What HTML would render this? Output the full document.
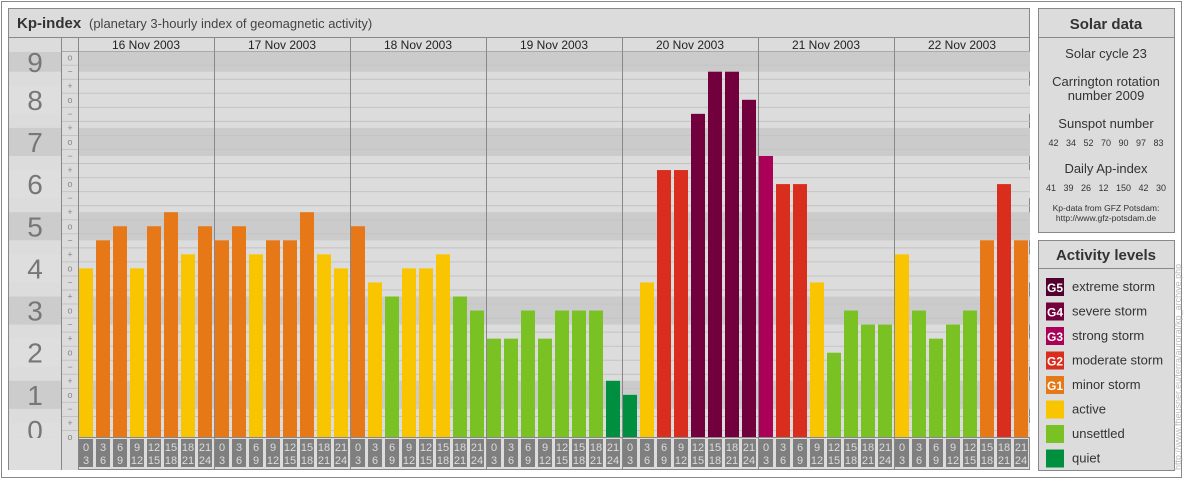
<!DOCTYPE html>
<html><head><meta charset="utf-8"><style>
body{margin:0;background:#fff;font-family:"Liberation Sans",sans-serif;}
svg text{font-family:"Liberation Sans",sans-serif;}
</style></head><body>
<svg id="svg" width="1184" height="480" xmlns="http://www.w3.org/2000/svg">
<rect x="1.5" y="1.5" width="1180" height="476" fill="#fff" stroke="#888"/>
<rect x="8.5" y="8.5" width="1021" height="461" fill="#dcdcdc" stroke="#888"/>
<line x1="9" y1="37.5" x2="1030" y2="37.5" stroke="#888"/>
<text x="17" y="28" font-size="15" font-weight="bold" fill="#333">Kp-index</text>
<text x="89" y="28" font-size="13" fill="#444">(planetary 3-hourly index of geomagnetic activity)</text>
<g id="bands"></g>
<g id="grid"></g>
<g id="days"></g>
<g id="bars"></g>
<g id="hours"></g>
<line x1="61.5" y1="38" x2="61.5" y2="470" stroke="#888"/>
<line x1="78.5" y1="38" x2="78.5" y2="470" stroke="#888"/>
<!-- Solar data -->
<g>
<rect x="1038.5" y="8.5" width="136" height="224" fill="#dcdcdc" stroke="#888"/>
<line x1="1039" y1="37.5" x2="1174" y2="37.5" stroke="#888"/>
<text x="1106" y="29" font-size="15" font-weight="bold" fill="#333" text-anchor="middle">Solar data</text>
<text x="1106" y="58" font-size="13" fill="#333" text-anchor="middle">Solar cycle 23</text>
<text x="1106" y="86" font-size="13" fill="#333" text-anchor="middle">Carrington rotation</text>
<text x="1106" y="100" font-size="13" fill="#333" text-anchor="middle">number 2009</text>
<text x="1106" y="128" font-size="13" fill="#333" text-anchor="middle">Sunspot number</text>
<text x="1106" y="146" font-size="9" fill="#333" text-anchor="middle" word-spacing="5">42 34 52 70 90 97 83</text>
<text x="1106" y="173" font-size="13" fill="#333" text-anchor="middle">Daily Ap-index</text>
<text x="1106" y="191" font-size="9" fill="#333" text-anchor="middle" word-spacing="5">41 39 26 12 150 42 30</text>
<text x="1106" y="211" font-size="8.5" fill="#333" text-anchor="middle">Kp-data from GFZ Potsdam:</text>
<text x="1106" y="221" font-size="8.5" fill="#333" text-anchor="middle">http://www.gfz-potsdam.de</text>
</g>
<g id="legend">
<rect x="1038.5" y="240.5" width="136" height="230" fill="#dcdcdc" stroke="#888"/>
<line x1="1039" y1="268.5" x2="1174" y2="268.5" stroke="#888"/>
<text x="1106" y="260" font-size="15" font-weight="bold" fill="#333" text-anchor="middle">Activity levels</text>
</g>
<text transform="translate(1181,470) rotate(-90)" font-size="9" fill="#bbb">http://www.fheusner.eu/terra/auroral/kp_archive.php</text>
</svg>
<script>
const days=["16 Nov 2003","17 Nov 2003","18 Nov 2003","19 Nov 2003","20 Nov 2003","21 Nov 2003","22 Nov 2003"];
const hourStarts=["0","3","6","9","12","15","18","21"];
const hourEnds=["3","6","9","12","15","18","21","24"];
const kpThirds=[12,14,15,12,15,16,13,15, 14,15,13,14,14,16,13,12, 15,11,10,12,12,13,10,9, 7,7,9,7,9,9,9,4, 3,11,19,19,23,26,26,24, 20,18,18,11,6,9,8,8, 13,9,7,8,9,14,18,14];
const levelNames=["G5","G4","G3","G2","G1","","",""];
const levelLabels=["extreme storm","severe storm","strong storm","moderate storm","minor storm","active","unsettled","quiet"];
const levelColors=["#52002e","#72003d","#aa0058","#d92d1e","#e67817","#f9c500","#7ac124","#008f3f"];
const NS="http://www.w3.org/2000/svg";
function mk(t,a,p){const e=document.createElementNS(NS,t);for(const k in a)e.setAttribute(k,a[k]);p.appendChild(e);return e;}
const X0=78,SLOT=17,BASE=437,K=14.05;
function yOf(n){return BASE-n*K;}
function colorOf(n){if(n>=27)return levelColors[0];if(n>=23)return levelColors[1];if(n>=20)return levelColors[2];if(n>=17)return levelColors[3];if(n>=14)return levelColors[4];if(n>=11)return levelColors[5];if(n>=5)return levelColors[6];return levelColors[7];}
const bands=document.getElementById('bands'),grid=document.getElementById('grid');
for(let L=0;L<=9;L++){
  const top=Math.max(52,yOf(3*L+1)),bot=Math.min(BASE,yOf(3*L-1));
  const dark=L%2==1;
  const r=mk('rect',{x:9,y:top,width:52,height:bot-top,fill:dark?'#cccccc':'#dedede'},bands);
  
  
  mk('rect',{x:79,y:top,width:951,height:bot-top,fill:dark?'#cbcbcb':'#dcdcdc'},bands);
  const t=mk('text',{x:35,y:(top+bot)/2+10,'font-size':28,fill:'#777','text-anchor':'middle'},bands);
  t.textContent=L;
  
  
}
mk('rect',{x:9,y:438,width:52,height:32,fill:'#dedede'},bands);
mk('rect',{x:62,y:38,width:16,height:432,fill:'#dcdcdc'},bands);
const syms=["o","+","−"];
for(let n=0;n<=27;n++){
  const y=yOf(n);
  const s=mk('text',{x:70,y:y+3,'font-size':9,fill:'#888','text-anchor':'middle'},grid);
  s.textContent=syms[((n%3)+3)%3===0?0:(n%3===1?1:2)];
  
  
  if(n<27) mk('line',{x1:62,y1:y-7+0.5,x2:1030,y2:y-7+0.5,stroke:(n%3===1)?'#c2c2c2':'#c4c4c4'},grid);
}
mk('line',{x1:62,y1:51.5,x2:1030,y2:51.5,stroke:'#aaa'},grid);
const dg=document.getElementById('days');
days.forEach((d,i)=>{
  const x=X0+i*136;
  if(i>0){const l=mk('line',{x1:x+0.5,y1:38,x2:x+0.5,y2:470,stroke:'#888'},dg);}
  const t=mk('text',{x:x+68,y:49,'font-size':12,fill:'#222','text-anchor':'middle'},dg);
  t.textContent=d;
  
  
});
const bg=document.getElementById('bars'),hg=document.getElementById('hours');
kpThirds.forEach((n,i)=>{
  const x=X0+1+i*SLOT,y=yOf(n);
  const b=mk('rect',{x:x,y:y,width:14,height:BASE-y,fill:colorOf(n)},bg);
  
  
  const h=mk('rect',{x:x,y:439,width:14,height:28,fill:'#7f7f7f'},hg);
  
  
  const t1=mk('text',{x:x+7,y:451,'font-size':11,fill:'#ddd','text-anchor':'middle'},hg);
  t1.textContent=hourStarts[i%8];
  const t2=mk('text',{x:x+7,y:464,'font-size':11,fill:'#ddd','text-anchor':'middle'},hg);
  t2.textContent=hourEnds[i%8];
});
mk('line',{x1:79,y1:437.5,x2:1030,y2:437.5,stroke:'#888'},hg);
const lg=document.getElementById('legend');
levelLabels.forEach((lab,i)=>{
  const y=278+i*24.5;
  const s=mk('rect',{x:1046,y:y,width:18,height:18,fill:levelColors[i]},lg);
  
  
  if(levelNames[i]){const g=mk('text',{x:1055,y:y+14,'font-size':12,'font-weight':'bold',fill:'#fff','text-anchor':'middle'},lg);g.textContent=levelNames[i];}
  const t=mk('text',{x:1072,y:y+13,'font-size':13,fill:'#333'},lg);
  t.textContent=lab;
  
  
});
</script>
</body></html>
